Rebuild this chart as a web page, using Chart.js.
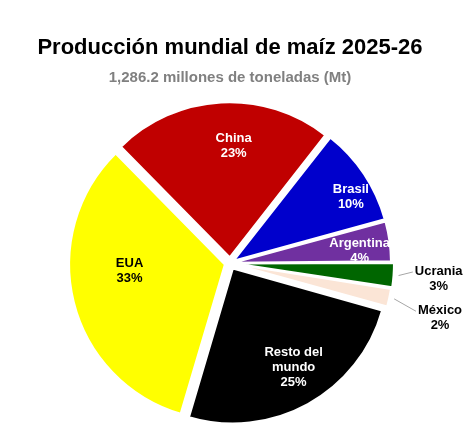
<!DOCTYPE html>
<html>
<head>
<meta charset="utf-8">
<script src="https://cdn.jsdelivr.net/npm/chart.js@4"></script>
<style>
  body { margin: 0; background: #fff; }
  #wrap { width: 471px; height: 442px; }
</style>
</head>
<body>
<div id="wrap"><canvas id="pie" width="471" height="442"></canvas></div>
<script>
// data (Mt)
const countries = ["China", "Brasil", "Argentina", "Ucrania", "México", "Resto del mundo", "EUA"];
const production = [295, 131, 53, 33, 24.7, 324.2, 425.3];
const sliceColors = ["#C00000", "#0000CC", "#7030A0", "#006600", "#FBE5D6", "#000000", "#FFFF00"];
const textColors = ["#fff", "#fff", "#fff", "#000", "#000", "#fff", "#000"];
const explode = [6, 6, 6, 9, 8, 6, 6]; // px each slice is pulled out

// label placement: fraction of radius, angle tweak (deg), outside = with leader line
const labelPos = [
  { r: 0.76, da: 5 },
  { r: 0.89, da: 4.8 },
  { r: 0.84, da: 2.3 },
  { r: 1.35, da: 0, outside: true },
  { r: 1.40, da: 2.3, outside: true },
  { r: 0.79, da: -2.4 },
  { r: 0.65, da: 9.5 },
];

const total = production.reduce((a, b) => a + b, 0);
const FONT = "'Liberation Sans', Arial, sans-serif";

// chart.js moves a slice by offset/4 * (1 + fix), undo that so the pull is in px
function sliceOffset(ctx) {
  const i = ctx.dataIndex;
  const c = (production[i] / total) * 2 * Math.PI;
  const fix = 1 - Math.sin(Math.min(Math.PI, c));
  return (4 * explode[i]) / (1 + fix);
}

//wrap long names into two lines
function wrapName(ctx, name, maxW) {
  if (ctx.measureText(name).width <= maxW) return [name];
  const words = name.split(" ");
  let lines = [];
  let cur = "";
  words.forEach((w) => {
    const test = cur ? cur + " " + w : w;
    if (ctx.measureText(test).width > maxW && cur) {
      lines.push(cur);
      cur = w;
    } else {
      cur = test;
    }
  });
  lines.push(cur);
  return lines;
}

const sliceLabels = {
  id: "sliceLabels",
  afterDatasetsDraw(chart) {
    const ctx = chart.ctx;
    const arcs = chart.getDatasetMeta(0).data;
    ctx.save();
    ctx.font = "bold 13px " + FONT;
    ctx.textAlign = "center";
    ctx.textBaseline = "middle";
    arcs.forEach((arc, i) => {
      const p = arc.getProps(["x", "y", "startAngle", "endAngle", "outerRadius"], true);
      const mid = (p.startAngle + p.endAngle) / 2;
      const a = mid + (labelPos[i].da * Math.PI) / 180;
      const R = p.outerRadius;
      const lx = p.x + Math.cos(a) * R * labelPos[i].r;
      const ly = p.y + Math.sin(a) * R * labelPos[i].r;
      const pct = Math.round((production[i] / total) * 100) + "%";
      const lines = wrapName(ctx, countries[i], 80).concat([pct]);
      const lh = 15;
      const y0 = ly - ((lines.length - 1) * lh) / 2;

      if (labelPos[i].outside) {
        const w = ctx.measureText(countries[i]).width;
        const sx = p.x + Math.cos(mid) * (R + explode[i] + 5);
        const sy = p.y + Math.sin(mid) * (R + explode[i] + 5);
        ctx.strokeStyle = "#a6a6a6";
        ctx.lineWidth = 1;
        ctx.beginPath();
        ctx.moveTo(sx, sy);
        ctx.lineTo(lx - w / 2 - 2, y0 + 1);
        ctx.stroke();
      }

      ctx.fillStyle = textColors[i];
      lines.forEach((t, k) => ctx.fillText(t, lx, y0 + k * lh));
    });
    ctx.restore();
  },
};

const config = {
  type: "pie",
  data: {
    labels: countries,
    datasets: [
      {
        data: production,
        backgroundColor: sliceColors,
        borderColor: "#fff",
        borderWidth: 2,
        offset: sliceOffset,
      },
    ],
  },
  options: {
    responsive: false,
    animation: false,
    events: [],
    rotation: -44.5,
    radius: 155,
    layout: { padding: { left: 0, right: 11, top: 0, bottom: 10 } },
    plugins: {
      legend: { display: false },
      tooltip: { enabled: false },
      title: {
        display: true,
        text: "Producción mundial de maíz 2025-26",
        color: "#000",
        font: { family: FONT, size: 22, weight: "bold" },
        padding: { top: 35, bottom: 0 },
      },
      subtitle: {
        display: true,
        text: "1,286.2 millones de toneladas (Mt)",
        color: "#808080",
        font: { family: FONT, size: 15, weight: "bold" },
        padding: { top: 7, bottom: 8 },
      },
    },
  },
  plugins: [sliceLabels],
};

new Chart(document.getElementById("pie"), config);
</script>
</body>
</html>
